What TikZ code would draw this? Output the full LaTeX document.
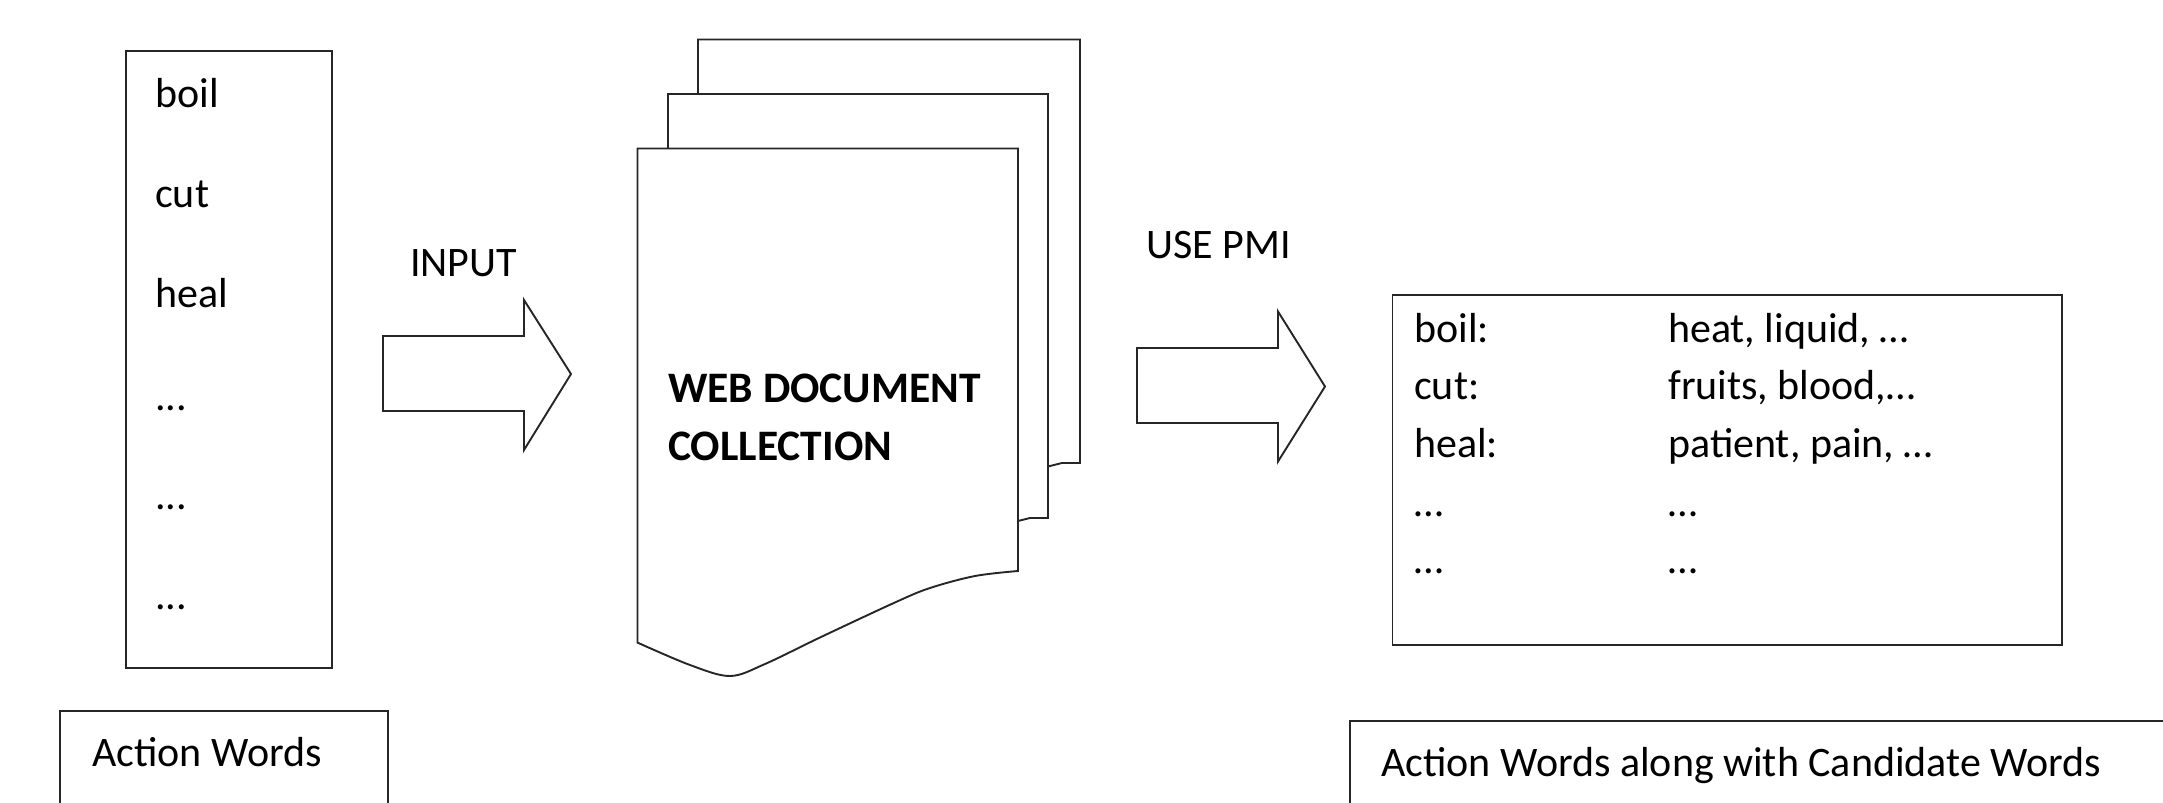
\documentclass[tikz,border=0pt]{standalone}
\usepackage{fontspec}
\setmainfont{Carlito}
\begin{document}
\begin{tikzpicture}[x=1pt, y=-1pt,
  frame/.style={draw=black!85, line width=1.9pt, fill=white, inner sep=0pt},
  page/.style={draw=black!85, line width=1.9pt, fill=white, line join=miter},
  blockarrow/.style={draw=black!85, line width=1.9pt, fill=white, line join=miter},
  txt/.style={anchor=base west, inner sep=0pt, font=\fontsize{42}{50}\selectfont},
  btxt/.style={anchor=base west, inner sep=0pt, font=\fontsize{43.5}{50}\selectfont\bfseries}]
\useasboundingbox (0,0) rectangle (2163,803);
\clip (0,0) rectangle (2163,803);

% list of action words
\node[frame, anchor=north west, minimum width=206pt, minimum height=617pt] (list) at (125,50) {};
\node[txt] (w1) at (155,107.5) {boil};
\node[txt] (w2) at (155,207) {cut};
\node[txt] (w3) at (155,307) {heal};
\node[txt] (w4) at (155,410) {...};
\node[txt] (w5) at (155,509) {...};
\node[txt] (w6) at (155,609) {...};

% caption box under the list
\node[frame, anchor=north west, minimum width=328pt, minimum height=150pt] (capL) at (59,710) {};
\node[txt] (capLtext) at (92,766) {Action Words};

% INPUT block arrow
\node[txt] (inputlbl) at (410,276.5) {INPUT};
\draw[blockarrow] (383,336) -- (524,336) -- (524,300) -- (571,374) -- (524,450) -- (524,411) -- (383,411) -- cycle;

% stack of web documents
\draw[page] (698,480) -- (698,39.5) -- (1080,39.5) -- (1080,463) -- (1062,463) -- (1048,466.5) -- (698,480) -- cycle;
\draw[page] (668,530) -- (668,94) -- (1048,94) -- (1048,518) -- (1030,518) -- (1018,521) -- (668,530) -- cycle;
\draw[page] (637.5,642.6) -- (637.5,148.5) -- (1018,148.5) -- (1018,571)
  -- plot[smooth, tension=0.55] coordinates {(1018,571) (975,576) (930,588) (896,602) (821,637) (765,664) (730,676) (690,665) (637.5,642.6)} -- cycle;
\node[btxt] (web1) at (668,402) {WEB DOCUMENT};
\node[btxt] (web2) at (668,460) {COLLECTION};

% USE PMI block arrow
\node[txt] (pmilbl) at (1146,258.5) {USE PMI};
\draw[blockarrow] (1137,348) -- (1278,348) -- (1278,311.5) -- (1325,386.5) -- (1278,461.5) -- (1278,423) -- (1137,423) -- cycle;

% action words with their candidate words
\node[frame, anchor=north west, minimum width=669.5pt, minimum height=350pt] (result) at (1391.5,294) {};
\node[txt] (r1a) at (1414,342) {boil:};
\node[txt] (r1b) at (1668,342) {heat, liquid, …};
\node[txt] (r2a) at (1414,399) {cut:};
\node[txt] (r2b) at (1668,399) {fruits, blood,…};
\node[txt] (r3a) at (1414,457) {heal:};
\node[txt] (r3b) at (1668,457) {patient, pain, …};
\node[txt] (r4a) at (1414,516) {…};
\node[txt] (r4b) at (1668,516) {…};
\node[txt] (r5a) at (1414,573) {…};
\node[txt] (r5b) at (1668,573) {…};

% caption box under the result
\node[frame, anchor=north west, minimum width=850pt, minimum height=150pt] (capR) at (1349,720) {};
\node[txt] (capRtext) at (1381,776) {Action Words along with Candidate Words};
\end{tikzpicture}
\end{document}
